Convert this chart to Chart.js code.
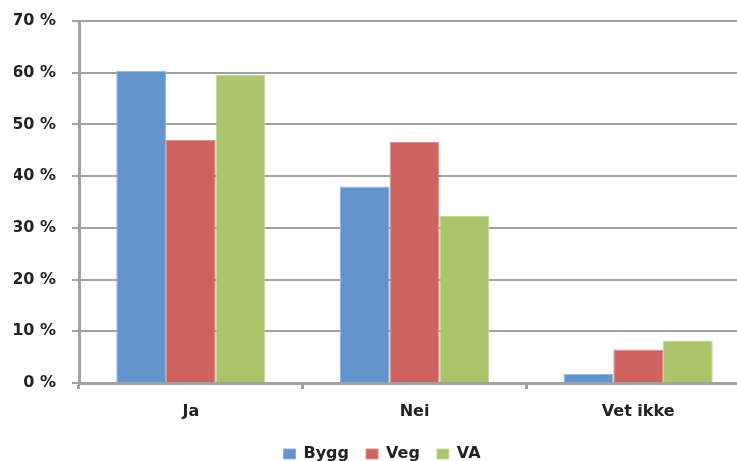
<!DOCTYPE html>
<html>
<head>
<meta charset="utf-8">
<script src="https://cdn.jsdelivr.net/npm/chart.js@4.4.1/dist/chart.umd.min.js"></script>
<style>
  html, body { margin: 0; padding: 0; background: #fff; overflow: hidden; }
  #wrap { position: absolute; left: 0; top: 0; width: 760px; height: 472px; }
</style>
</head>
<body>
<div id="wrap"><canvas id="c"></canvas></div>
<script>
// Survey answers by sector (share of respondents, %)
const categories = ['Ja', 'Nei', 'Vet ikke'];
const bygg = [60.4, 38.0, 1.8];
const veg  = [47.0, 46.6, 6.5];
const va   = [59.6, 32.3, 8.2];
const seriesNames = ['Bygg', 'Veg', 'VA'];
const yTicks = [0, 10, 20, 30, 40, 50, 60, 70];

const fillColors = ['#6195cb', '#cd645f', '#aac46b'];
const edgeColors = ['#8fb4dc', '#dc8f8b', '#c6d898'];
const seriesValues = [bygg, veg, va];

const labelFont = { family: '"DejaVu Sans", Verdana, sans-serif', size: 16, weight: 'bold' };
const axisGray = '#a1a1a1';

new Chart(document.getElementById('c'), {
  type: 'bar',
  data: {
    labels: categories,
    datasets: seriesNames.map((name, i) => ({
      label: name,
      data: seriesValues[i],
      backgroundColor: fillColors[i],
      borderColor: edgeColors[i],
      borderWidth: 1,
      categoryPercentage: 3 / 4.5,
      barPercentage: 1.0
    }))
  },
  options: {
    responsive: true,
    maintainAspectRatio: false,
    animation: false,
    devicePixelRatio: 1,
    layout: { padding: { left: 14, right: 10, top: 21, bottom: 0 } },
    plugins: {
      tooltip: { enabled: false },
      legend: {
        position: 'bottom',
        labels: {
          font: labelFont,
          color: '#222',
          boxWidth: 12,
          boxHeight: 10,
          padding: 17,
          useBorderRadius: false
        }
      }
    },
    scales: {
      x: {
        grid: {
          display: true,
          offset: true,
          drawOnChartArea: false,
          drawTicks: true,
          tickLength: 6,
          color: axisGray,
          lineWidth: 3
        },
        border: { display: true, color: axisGray, width: 3 },
        ticks: { font: labelFont, color: '#222', padding: 13 },
        afterFit: s => { s.height = 46; s.paddingLeft = 0; s.paddingRight = 0; }
      },
      y: {
        min: 0,
        max: 70,
        afterBuildTicks: s => { s.ticks = yTicks.map(v => ({ value: v })); },
        grid: {
          color: axisGray,
          lineWidth: 2,
          tickLength: 7,
          drawTicks: true
        },
        border: { display: true, color: axisGray, width: 3 },
        ticks: {
          font: labelFont,
          color: '#222',
          padding: 16,
          callback: v => v + ' %'
        },
        afterFit: s => { s.width = 65; s.paddingTop = 0; s.paddingBottom = 0; }
      }
    }
  }
});
</script>
</body>
</html>
